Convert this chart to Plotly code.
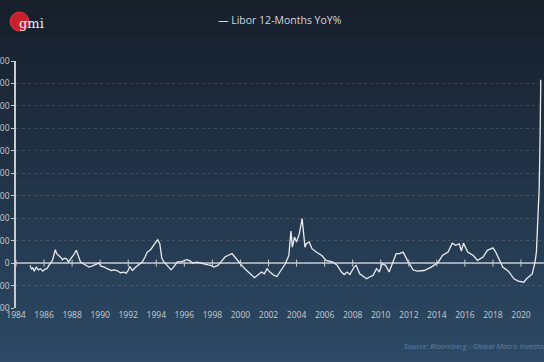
import plotly.graph_objects as go

years = [1985.0,1985.1,1985.2,1985.3,1985.45,1985.6,1985.75,1985.9,1986.05,1986.2,1986.35,1986.5,1986.6,1986.7,1986.8,1986.9,
1987.05,1987.2,1987.3,1987.45,1987.6,1987.75,1987.9,1988.1,1988.3,1988.45,1988.6,1988.8,1989.0,1989.2,1989.45,1989.7,1989.9,
1990.1,1990.3,1990.5,1990.8,1991.0,1991.2,1991.45,1991.7,1991.85,1992.0,1992.1,1992.3,1992.5,1992.75,1993.0,1993.2,1993.35,
1993.5,1993.65,1993.85,1994.1,1994.25,1994.4,1994.55,1994.8,1995.05,1995.2,1995.5,1995.75,1996.0,1996.2,
1996.4,1996.6,1996.9,1997.1,1997.4,1997.7,1997.9,1998.1,1998.4,1998.6,1998.9,1999.1,1999.4,1999.6,1999.9,2000.2,2000.5,
2000.8,2001.0,2001.2,2001.5,2001.7,2001.9,2002.1,2002.4,2002.6,2002.8,2003.0,2003.2,2003.45,2003.6,2003.7,2003.85,2004.0,
2004.2,2004.4,2004.5,2004.6,2004.7,2004.9,2005.1,2005.4,2005.8,2006.1,2006.6,2006.9,2007.2,2007.4,2007.6,2007.8,2008.1,
2008.25,2008.5,2009.0,2009.2,2009.45,2009.7,2009.9,2010.1,2010.35,2010.6,2010.85,2011.1,2011.35,2011.6,2011.9,2012.3,
2012.6,2013.1,2013.6,2014.1,2014.4,2014.8,2015.1,2015.35,2015.6,2015.75,2015.9,2016.2,2016.6,2016.9,2017.3,2017.6,2018.0,
2018.2,2018.7,2019.1,2019.5,2019.8,2020.2,2020.4,2020.8,2021.0,2021.1,2021.2,2021.3,2021.37,2021.41]

libor_yoy = [-10,-28,-20,-36,-18,-30,-25,-36,-28,-25,-10,5,12,35,60,42,
34,25,15,22,19,5,20,35,57,30,5,-3,-10,-18,-12,-5,0,
-15,-18,-25,-33,-30,-33,-43,-40,-45,-33,-15,-33,-20,-6,5,27,49,
55,64,83,104,86,20,5,-15,-30,-20,5,5,12,15,
10,0,4,0,-3,-8,-10,-18,-10,4,27,34,42,27,4,-18,-36,
-55,-65,-55,-40,-48,-25,-40,-55,-60,-40,-18,-3,34,143,71,116,94,
131,198,138,71,86,94,64,49,34,12,4,-10,-40,-51,-40,-51,-18,
-10,-48,-70,-62,-55,-25,-40,-3,-10,-40,4,42,42,49,12,-30,
-36,-33,-18,4,34,49,89,79,86,54,89,49,34,12,27,57,68,
49,-18,-36,-70,-80,-85,-70,-48,4,50,190,340,600,817]

x_ticks = list(range(1984, 2021, 2))
x_tick_labels = [str(y) for y in x_ticks]
y_ticks = list(range(-200, 901, 100))
y_tick_labels = [str(v) for v in y_ticks]

series_name = "Libor 12-Months YoY%"

W, H = 544, 362
L, R, T, B = 16, 0, 61, 54

fig = go.Figure()
fig.add_trace(go.Scatter(x=years, y=libor_yoy, mode="lines", name=series_name,
                         line=dict(color="#e8ecef", width=1.3), showlegend=False))
fig.add_trace(go.Scatter(x=x_ticks, y=[0]*len(x_ticks), mode="markers",
                         marker=dict(symbol="line-ns", size=5, line=dict(color="#c8ccd0", width=1)),
                         showlegend=False, hoverinfo="skip"))

shapes = []
top = (0x17, 0x1f, 0x2b)
bot = (0x2e, 0x4a, 0x66)
n = 40
for i in range(n):
    f = i / (n - 1)
    c = tuple(int(top[k] + (bot[k] - top[k]) * f) for k in range(3))
    y0p = i * H / n
    y1p = (i + 1) * H / n + 1
    shapes.append(dict(type="rect", xref="paper", yref="paper", layer="below",
                       x0=-L / (W - L - R) - 0.01, x1=1.01,
                       y0=(H - B - y1p) / (H - T - B), y1=(H - B - y0p) / (H - T - B),
                       fillcolor="rgb(%d,%d,%d)" % c, line=dict(width=0)))
shapes.append(dict(type="line", xref="paper", yref="y", x0=0, x1=1, y0=0, y1=0,
                   line=dict(color="#c4c8cc", width=1.5), layer="below"))

def px2paper(px, py):
    return (px - L) / (W - L - R), (H - B - py) / (H - T - B)

cx0, cy0 = px2paper(10, 31)
cx1, cy1 = px2paper(29, 12)
shapes.append(dict(type="circle", xref="paper", yref="paper", x0=cx0, x1=cx1, y0=cy0, y1=cy1,
                   fillcolor="#c8202c", line=dict(color="#e03040", width=1)))

annotations = []
lx, ly = px2paper(17, 23)
annotations.append(dict(xref="paper", yref="paper", x=lx, y=ly, text="gmi", showarrow=False,
                        xanchor="left", yanchor="middle",
                        font=dict(family="DejaVu Serif", size=13, color="#f0f0f0")))
tx, ty = px2paper(280, 20)
annotations.append(dict(xref="paper", yref="paper", x=tx, y=ty, text="— " + series_name, showarrow=False,
                        xanchor="center", yanchor="middle",
                        font=dict(family="Open Sans", size=10.5, color="#d4d8dc")))
sx, sy = px2paper(402, 346)
annotations.append(dict(xref="paper", yref="paper", x=sx, y=sy,
                        text="<i>Source: Bloomberg - Global Macro Investor</i>", showarrow=False,
                        xanchor="left", yanchor="middle",
                        font=dict(family="Open Sans", size=7.5, color="#5f82a6")))

fig.update_layout(
    width=W, height=H,
    margin=dict(l=L, r=R, t=T, b=B, autoexpand=False),
    paper_bgcolor="#22344a", plot_bgcolor="rgba(0,0,0,0)",
    shapes=shapes, annotations=annotations,
    font=dict(family="Open Sans", color="#c8ccd0", size=8.5),
    xaxis=dict(range=[1984, 2021.64], tickmode="array", tickvals=x_ticks, ticktext=x_tick_labels,
               showgrid=False, zeroline=False, showline=False, ticks="", automargin=False,
               tickfont=dict(size=8.5, color="#c8ccd0")),
    yaxis=dict(range=[-200, 900], tickmode="array", tickvals=y_ticks, ticktext=y_tick_labels,
               showgrid=True, gridcolor="rgba(255,255,255,0.13)", griddash="dot", gridwidth=1,
               zeroline=False, showline=True, linecolor="#c8ccd0", linewidth=1.5,
               ticks="outside", ticklen=3, tickcolor="#c8ccd0", automargin=False,
               tickfont=dict(size=8.5, color="#c8ccd0")),
)

fig.write_html("out.html", config={"displayModeBar": False},
               post_script="document.body.style.margin='0';document.body.style.overflow='hidden';")
